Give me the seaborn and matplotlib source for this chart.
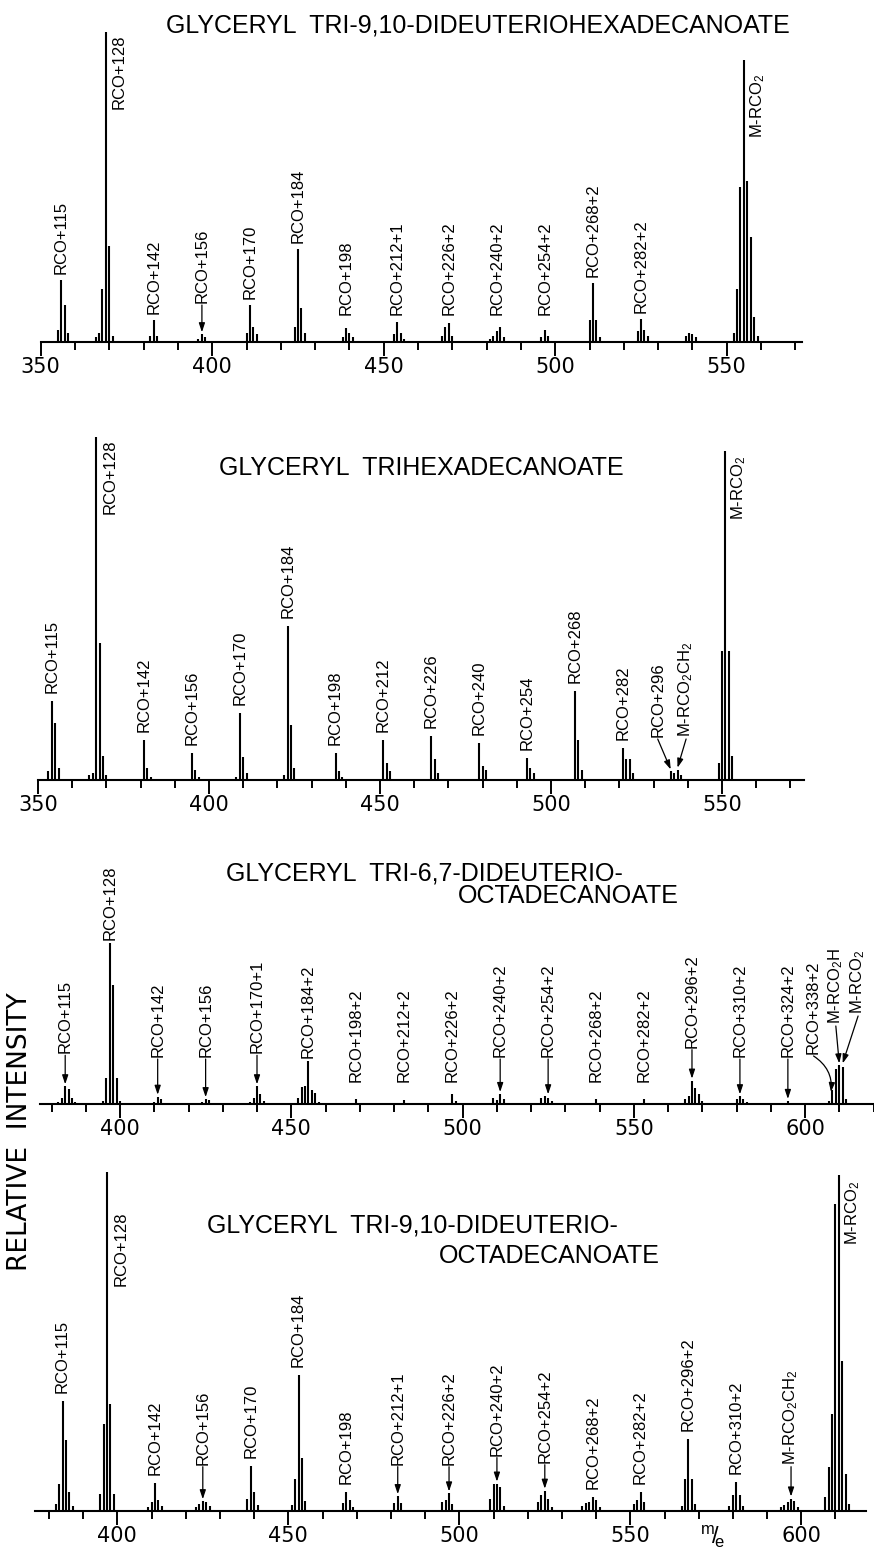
import numpy as np
import pandas as pd
import matplotlib
matplotlib.use("Agg")
import matplotlib.pyplot as plt
from matplotlib.ticker import MultipleLocator
import seaborn as sns

# ---- spectrum 1: glyceryl tri-9,10-dideuteriohexadecanoate ----
mz_1 = [355, 356, 357, 358, 366, 367, 368, 369, 370, 371,
        382, 383, 384, 396, 397, 398, 410, 411, 412, 413,
        424, 425, 426, 427, 438, 439, 440, 441, 453, 454, 455, 456,
        467, 468, 469, 470, 481, 482, 483, 484, 485, 496, 497, 498,
        510, 511, 512, 513, 524, 525, 526, 527, 538, 539, 540, 541,
        552, 553, 554, 555, 556, 557, 558, 559]
int_1 = [4, 20, 12, 3, 1.5, 3, 17, 100, 31, 2,
         2, 7, 2, 1, 2.5, 1.5, 3, 12, 5, 2.5,
         5, 30, 11, 3, 1.5, 4.5, 3, 1.5, 2.5, 6.5, 3, 1,
         2, 5, 6, 2, 1, 2, 3.5, 5, 1.5, 1.5, 4, 2,
         7, 19, 7, 1.5, 3.5, 7.5, 4, 2, 2, 3, 2.5, 1.5,
         3, 17, 50, 91, 52, 34, 8, 2]
title_1 = ["GLYCERYL  TRI-9,10-DIDEUTERIOHEXADECANOATE"]
labels_1 = ["RCO+115", "RCO+128", "RCO+142", "RCO+156", "RCO+170", "RCO+184",
            "RCO+198", "RCO+212+1", "RCO+226+2", "RCO+240+2", "RCO+254+2",
            "RCO+268+2", "RCO+282+2", "M-RCO$_2$"]
label_mz_1 = [356, 369, 383, 397, 411, 425, 439, 454, 469, 483, 497, 511, 525, 555]
arrows_1 = ["RCO+156"]

# ---- spectrum 2: glyceryl trihexadecanoate ----
mz_2 = [353, 354, 355, 356, 365, 366, 367, 368, 369, 370,
        381, 382, 383, 395, 396, 397, 408, 409, 410, 411,
        422, 423, 424, 425, 437, 438, 439, 451, 452, 453,
        465, 466, 467, 479, 480, 481, 493, 494, 495,
        507, 508, 509, 521, 522, 523, 524, 535, 536, 537, 538,
        549, 550, 551, 552, 553]
int_2 = [2.5, 23, 16.5, 3.5, 1.5, 2, 100, 40, 7, 1.5,
         11.7, 3.4, 1, 7.8, 3, 1, 1, 19.5, 6.8, 2,
         1.5, 45, 16, 3.4, 7.8, 2.5, 1, 11.7, 5, 2.5,
         12.7, 6, 2, 10.7, 4, 3, 6.3, 3.4, 2,
         26, 11.7, 3, 9.3, 6, 6, 2, 2.5, 2, 3, 1.5,
         5, 37.5, 96, 37.5, 7]
title_2 = ["GLYCERYL  TRIHEXADECANOATE"]
labels_2 = ["RCO+115", "RCO+128", "RCO+142", "RCO+156", "RCO+170", "RCO+184",
            "RCO+198", "RCO+212", "RCO+226", "RCO+240", "RCO+254", "RCO+268",
            "RCO+282", "RCO+296", "M-RCO$_2$CH$_2$", "M-RCO$_2$"]
label_mz_2 = [354, 367, 381, 395, 409, 423, 437, 451, 465, 479, 493, 507, 521, 535, 537, 551]
arrows_2 = ["RCO+296", "M-RCO$_2$CH$_2$"]

# ---- spectrum 3: glyceryl tri-6,7-dideuteriooctadecanoate ----
mz_3 = [382, 383, 384, 385, 386, 387, 395, 396, 397, 398, 399, 400,
        410, 411, 412, 424, 425, 426, 438, 439, 440, 441, 442,
        452, 453, 454, 455, 456, 457, 458, 469, 483, 497, 498,
        509, 510, 511, 512, 523, 524, 525, 526, 539, 553,
        565, 566, 567, 568, 569, 570, 580, 581, 582, 583, 595,
        607, 608, 609, 610, 611, 612]
int_3 = [1.5, 4, 11, 9.5, 4, 1.5, 2, 16, 100, 74, 16, 2,
         1.5, 4.5, 3, 1, 3, 2.5, 1.5, 4, 11, 6.5, 2,
         3.5, 10.5, 11, 26.5, 8.7, 6.6, 1.5, 2.9, 2.5, 6.2, 2,
         3.5, 2.5, 6.2, 3, 4, 4.8, 4, 2, 3, 3,
         3, 5, 14.5, 9.7, 6, 2, 3, 4.8, 3, 1.5, 1.9,
         2, 9, 22, 24, 23, 3]
title_3 = ["GLYCERYL  TRI-6,7-DIDEUTERIO-", "OCTADECANOATE"]
labels_3 = ["RCO+115", "RCO+128", "RCO+142", "RCO+156", "RCO+170+1", "RCO+184+2",
            "RCO+198+2", "RCO+212+2", "RCO+226+2", "RCO+240+2", "RCO+254+2",
            "RCO+268+2", "RCO+282+2", "RCO+296+2", "RCO+310+2", "RCO+324+2",
            "RCO+338+2", "M-RCO$_2$H", "M-RCO$_2$"]
label_mz_3 = [384, 397, 411, 425, 440, 455, 469, 483, 497, 511, 525, 539, 553,
              567, 581, 595, 609, 610, 611]
arrows_3 = ["RCO+115", "RCO+142", "RCO+156", "RCO+170+1", "RCO+240+2", "RCO+254+2",
            "RCO+296+2", "RCO+310+2", "RCO+324+2", "RCO+338+2", "M-RCO$_2$H", "M-RCO$_2$"]

# ---- spectrum 4: glyceryl tri-9,10-dideuteriooctadecanoate ----
mz_4 = [382, 383, 384, 385, 386, 387, 395, 396, 397, 398, 399,
        409, 410, 411, 412, 413, 423, 424, 425, 426, 427,
        438, 439, 440, 441, 451, 452, 453, 454, 455,
        466, 467, 468, 469, 481, 482, 483, 495, 496, 497, 498,
        509, 510, 511, 512, 513, 523, 524, 525, 526, 527,
        536, 537, 538, 539, 540, 541, 551, 552, 553, 554,
        565, 566, 567, 568, 569, 579, 580, 581, 582, 583,
        594, 595, 596, 597, 598, 599, 607, 608, 609, 610, 611, 612, 613, 614]
int_4 = [2, 8, 32.5, 21, 5.5, 1.5, 5, 25.6, 100, 31.5, 5,
         1, 2.7, 8.3, 3.3, 1.5, 1.2, 2, 2.8, 2.5, 1.5,
         3.6, 13.2, 5.6, 1.7, 1.7, 9.3, 40, 15.5, 3,
         2.2, 5.4, 3.1, 1.2, 2.2, 4.3, 2.4, 2.7, 3.1, 5.1, 2,
         3.6, 8, 8, 7, 1.5, 2.7, 4.6, 5.9, 3.6, 1.2,
         1.5, 2.2, 2.7, 4, 3.3, 1.2, 2, 3.1, 5.6, 2.7,
         1.5, 9.5, 21.2, 9.3, 2, 1.5, 4.6, 8.6, 4.6, 1.5,
         1.2, 1.7, 2.7, 3.6, 2.9, 1, 4, 12.8, 28.5, 90.5, 99, 44.3, 10.8, 2]
title_4 = ["GLYCERYL  TRI-9,10-DIDEUTERIO-", "OCTADECANOATE"]
labels_4 = ["RCO+115", "RCO+128", "RCO+142", "RCO+156", "RCO+170", "RCO+184",
            "RCO+198", "RCO+212+1", "RCO+226+2", "RCO+240+2", "RCO+254+2",
            "RCO+268+2", "RCO+282+2", "RCO+296+2", "RCO+310+2",
            "M-RCO$_2$CH$_2$", "M-RCO$_2$"]
label_mz_4 = [384, 397, 411, 425, 439, 453, 467, 482, 497, 511, 525, 539, 553,
              567, 581, 597, 611]
arrows_4 = ["RCO+156", "RCO+212+1", "RCO+226+2", "RCO+240+2", "RCO+254+2", "M-RCO$_2$CH$_2$"]

# ---- style ----
sns.set_theme(style="white", rc={"axes.edgecolor": "black", "xtick.color": "black",
                                 "text.color": "black"})
plt.rcParams["font.family"] = ["Liberation Sans", "DejaVu Sans"]
plt.rcParams["mathtext.fontset"] = "custom"
plt.rcParams["mathtext.rm"] = "Liberation Sans"
plt.rcParams["mathtext.it"] = "Liberation Sans:italic"
plt.rcParams["mathtext.default"] = "rm"

W, H = 874, 1550
fig = plt.figure(figsize=(W / 100, H / 100), dpi=100)
fig.patch.set_facecolor("white")

# layout of the four panels (pixels of the page)
panels = [
    dict(mz=mz_1, rel=int_1, titles=title_1, labels=labels_1, lmz=label_mz_1, arrows=arrows_1,
         ref=(350, 40.7), scale=3.43, xlim=(350, 572), yax=342, h=310,
         gap=6, floor=27, afloor=39, alen=28,
         beside={"RCO+128": 0, "M-RCO$_2$": 12}, shift={}, lift={}, aim={}, bend={},
         tpos=[(478, 33)]),
    dict(mz=mz_2, rel=int_2, titles=title_2, labels=labels_2, lmz=label_mz_2, arrows=arrows_2,
         ref=(350, 38), scale=3.42, xlim=(350, 574), yax=780, h=343,
         gap=8, floor=20, afloor=43, alen=28,
         beside={"RCO+128": 0, "M-RCO$_2$": 3},
         shift={"RCO+296": -3.8, "M-RCO$_2$CH$_2$": 2.5}, lift={}, aim={}, bend={},
         tpos=[(421, 475)]),
    dict(mz=mz_3, rel=int_3, titles=title_3, labels=labels_3, lmz=label_mz_3, arrows=arrows_3,
         ref=(400, 120), scale=3.425, xlim=(376.6, 620), yax=1104, h=161,
         gap=3, floor=22, afloor=47, alen=33,
         beside={},
         shift={"RCO+338+2": -6.5, "M-RCO$_2$H": -1.0, "M-RCO$_2$": 4.5},
         lift={"RCO+338+2": 50, "M-RCO$_2$H": 80, "M-RCO$_2$": 90},
         aim={"RCO+338+2": (607.6, 12)}, bend={"RCO+338+2": -0.3},
         tpos=[(424, 880), (568, 903)]),
    dict(mz=mz_4, rel=int_4, titles=title_4, labels=labels_4, lmz=label_mz_4, arrows=arrows_4,
         ref=(400, 117.3), scale=3.42, xlim=(376, 619), yax=1510.7, h=338.7,
         gap=8, floor=22, afloor=46, alen=28,
         beside={"RCO+128": 38, "M-RCO$_2$": 3}, shift={}, lift={}, aim={}, bend={},
         tpos=[(412, 1232), (549, 1263)]),
]

for p in panels:
    df = pd.DataFrame({"mz": p["mz"], "rel": p["rel"]})
    x_left = p["ref"][1] + (p["xlim"][0] - p["ref"][0]) * p["scale"]
    x_right = p["ref"][1] + (p["xlim"][1] - p["ref"][0]) * p["scale"]
    h = p["h"]
    ax = fig.add_axes([x_left / W, 1 - p["yax"] / H, (x_right - x_left) / W, h / H])
    ax.patch.set_alpha(0)

    ax.vlines(df["mz"], 0, df["rel"], color="black", lw=1.5)

    ax.set_xlim(*p["xlim"])
    ax.set_ylim(0, 100)
    ax.set_yticks([])
    ax.xaxis.set_major_locator(MultipleLocator(50))
    ax.xaxis.set_minor_locator(MultipleLocator(10))
    ax.tick_params(axis="x", which="major", length=10, width=1.4, direction="out",
                   pad=1, labelsize=15, bottom=True)
    ax.tick_params(axis="x", which="minor", length=5.5, width=1.4, direction="out", bottom=True)
    for t in ax.get_xticklabels():
        t.set_fontfamily("DejaVu Sans")
    sns.despine(ax=ax, left=True)
    ax.spines["bottom"].set_linewidth(1.5)

    to_data = 100.0 / h
    for name, m in zip(p["labels"], p["lmz"]):
        near = df.loc[(df["mz"] - m).abs() <= 1, "rel"]
        pk = (near.max() if len(near) else 0) * h / 100.0
        dx = p["shift"].get(name, 0)
        if name in p["beside"]:
            x = m + 4 + dx
            y = pk - 2 - p["beside"][name]
            va = "top"
        elif name in p["arrows"]:
            x = m + dx
            y = p["lift"].get(name, max(p["afloor"], pk + p["alen"]))
            va = "bottom"
            tx, ty = p["aim"].get(name, (m, pk + 2))
            rad = p["bend"].get(name, 0)
            ax.annotate("", xy=(tx, ty * to_data), xytext=(x, (y - 2) * to_data),
                        arrowprops=dict(arrowstyle="-|>,head_length=0.45,head_width=0.15",
                                        color="black", lw=0.9, shrinkA=0, shrinkB=0,
                                        connectionstyle=f"arc3,rad={rad}"),
                        annotation_clip=False)
        else:
            x = m + dx
            y = max(pk + p["gap"], p["floor"])
            va = "bottom"
        ax.text(x, y * to_data, name, rotation=90, ha="center", va=va,
                fontsize=12, clip_on=False)

    for text, (tx, ty) in zip(p["titles"], p["tpos"]):
        fig.text(tx / W, 1 - ty / H, text, ha="center", va="baseline", fontsize=18)

fig.text(20 / W, 1 - 1132 / H, "RELATIVE  INTENSITY", rotation=90, ha="center",
         va="center", fontsize=19, family="DejaVu Sans")
fig.text(713 / W, 1 - 1537 / H, r"$^{m}\!/\!_{e}$", fontsize=17, ha="center", va="center")

fig.savefig("out.png", dpi=100, facecolor="white")
